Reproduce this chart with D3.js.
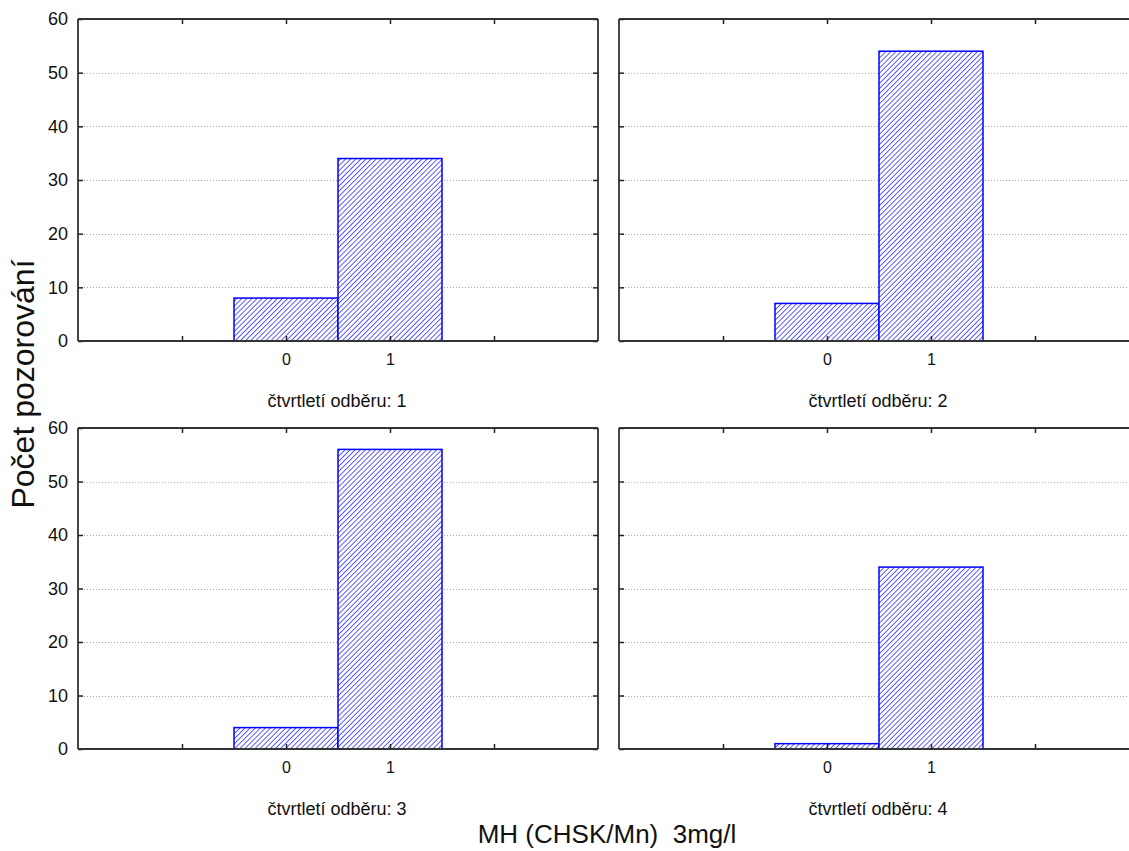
<!DOCTYPE html>
<html><head><meta charset="utf-8">
<script src="https://cdn.jsdelivr.net/npm/d3@7"></script>
<style>
body{margin:0;background:#fff;}
svg{display:block;font-family:Arial,"Liberation Sans",sans-serif;}
</style></head><body>
<svg id="c" width="1129" height="851"></svg>
<script>
const categories = [0, 1];
const panelTitles = ["čtvrtletí odběru: 1","čtvrtletí odběru: 2","čtvrtletí odběru: 3","čtvrtletí odběru: 4"];
const q1 = [8, 34];
const q2 = [7, 54];
const q3 = [4, 56];
const q4 = [1, 34];
const seriesValues = [q1, q2, q3, q4];
const yTicks = [0, 10, 20, 30, 40, 50, 60];
const xTicks = [-1, 0, 1, 2];
const xTickLabels = ["", "0", "1", ""];
const yTitle = "Počet pozorování";
const xTitle = "MH (CHSK/Mn)  3mg/l";

const svg = d3.select("#c");
const defs = svg.append("defs");
const pat = defs.append("pattern").attr("id","hatch").attr("patternUnits","userSpaceOnUse")
  .attr("width",3.6).attr("height",3.6).attr("patternTransform","rotate(45)");
pat.append("rect").attr("width",3.6).attr("height",3.6).attr("fill","#fff");
pat.append("line").attr("x1",0).attr("y1",0).attr("x2",0).attr("y2",3.6).attr("stroke","#2828ff").attr("stroke-width",1.5);

const panels = [
  {x0:78, x1:598, y0:19, y1:341},
  {x0:619, x1:1139, y0:19, y1:341},
  {x0:78, x1:598, y0:428, y1:749},
  {x0:619, x1:1139, y0:428, y1:749}
];

panels.forEach((p, i) => {
  const x = d3.scaleLinear().domain([-2, 3]).range([p.x0, p.x1]);
  const y = d3.scaleLinear().domain([0, 60]).range([p.y1, p.y0]);
  const g = svg.append("g");
  g.selectAll("line.grid").data(yTicks.filter(t => t > 0 && t < 60)).join("line")
    .attr("x1", p.x0).attr("x2", p.x1)
    .attr("y1", d => Math.round(y(d)) + 0.5).attr("y2", d => Math.round(y(d)) + 0.5)
    .attr("stroke", d => d === 50 ? "#d8a8e0" : "#b0a4a4")
    .attr("stroke-width", 1).attr("stroke-dasharray", "1,2");
  g.selectAll("rect.bar").data(categories.map((c, k) => ({c, v: seriesValues[i][k]}))).join("rect")
    .attr("x", d => x(d.c - 0.5)).attr("width", d => x(d.c + 0.5) - x(d.c - 0.5))
    .attr("y", d => y(d.v)).attr("height", d => y(0) - y(d.v))
    .attr("fill", "url(#hatch)").attr("stroke", "#0000ff").attr("stroke-width", 1.5);
  const left = d3.axisLeft(y).tickValues(yTicks).tickSize(-5).tickPadding(10).tickFormat(d3.format("d"));
  const right = d3.axisRight(y).tickValues(yTicks).tickSize(-5).tickFormat("");
  const bottom = d3.axisBottom(x).tickValues(xTicks).tickSize(-5).tickPadding(13).tickFormat((d, k) => xTickLabels[k]);
  const top = d3.axisTop(x).tickValues(xTicks).tickSize(-5).tickFormat("");
  const style = a => {
    a.selectAll("path").attr("stroke", "#333").attr("stroke-width", 1.8);
    a.selectAll("line").attr("stroke", "#222").attr("stroke-width", 1.5);
    a.selectAll("text").attr("fill", "#111");
  };
  const ga = g.append("g").attr("transform", `translate(${p.x0},0)`).call(left);
  ga.call(style);
  ga.selectAll("text").style("font-size", "18px");
  if (i % 2 === 1) ga.selectAll("text").remove();
  ga.select(".domain").attr("d", `M0,${p.y0}V${p.y1}`);
  const gr = g.append("g").attr("transform", `translate(${p.x1},0)`).call(right); gr.call(style);
  gr.select(".domain").attr("d", `M0,${p.y0}V${p.y1}`);
  const gb = g.append("g").attr("transform", `translate(0,${p.y1})`).call(bottom); gb.call(style);
  gb.selectAll("text").style("font-size", "16px");
  gb.select(".domain").attr("d", `M${p.x0},0H${p.x1}`);
  const gt = g.append("g").attr("transform", `translate(0,${p.y0})`).call(top); gt.call(style);
  gt.select(".domain").attr("d", `M${p.x0},0H${p.x1}`);
  svg.append("text").attr("x", (p.x0 + p.x1) / 2 - 1).attr("y", p.y1 + 66)
    .attr("text-anchor", "middle").style("font-size", "18px").attr("fill", "#111").text(panelTitles[i]);
});

svg.append("text").attr("transform", "translate(34,384) rotate(-90)").attr("text-anchor", "middle")
  .style("font-size", "32px").attr("fill", "#111").text(yTitle);
svg.append("text").attr("x", 607).attr("y", 843).attr("text-anchor", "middle")
  .style("font-size", "26px").attr("fill", "#111").style("white-space","pre").text(xTitle);
</script>
</body></html>
